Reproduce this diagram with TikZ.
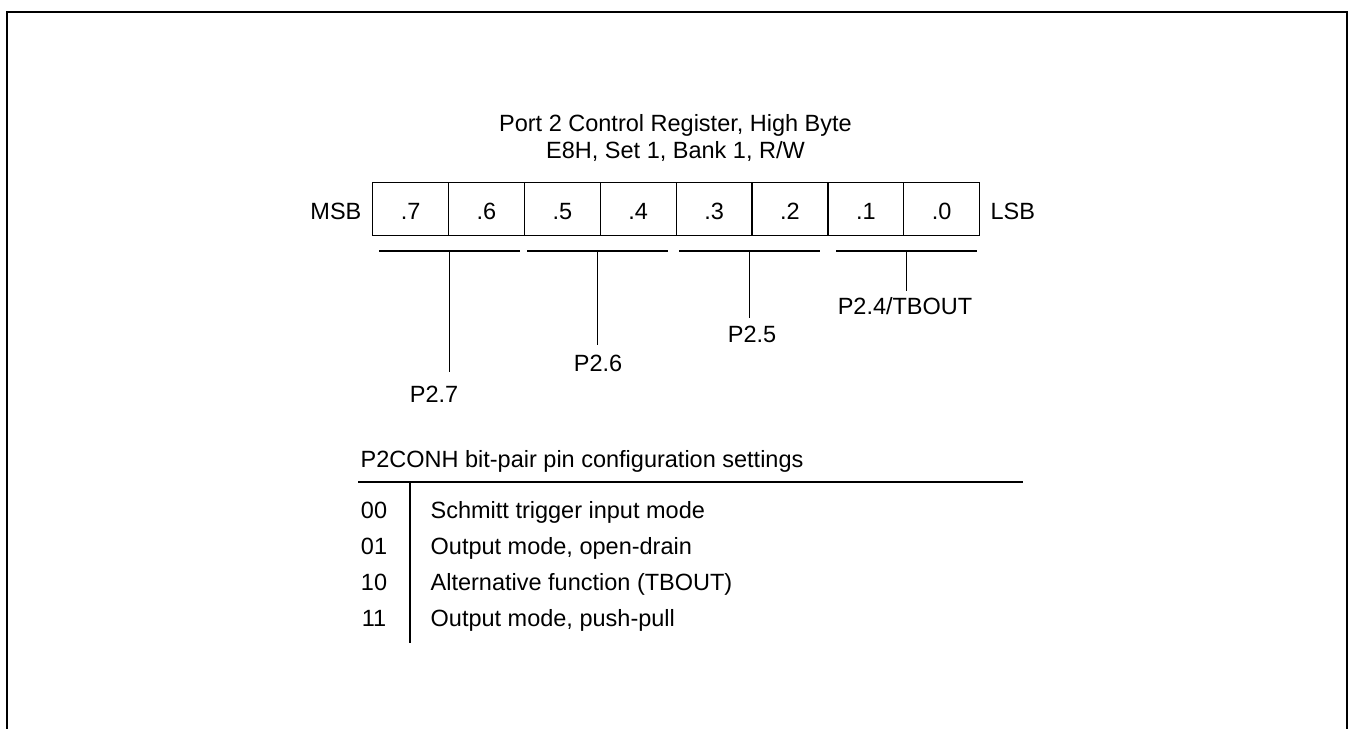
\documentclass[tikz,border=0pt]{standalone}
\usepackage{fontspec}
\setmainfont{Liberation Sans}
\begin{document}
\begin{tikzpicture}[x=1pt,y=-1pt,line width=1.3pt,
  every node/.style={font=\fontsize{23.5}{28}\selectfont,inner sep=0pt},
  bitcell/.style={draw,minimum width=75.875pt,minimum height=53pt,text height=21pt,text depth=0pt,anchor=north west}]
\useasboundingbox (0,0) rectangle (1348,728);
\clip (0,0) rectangle (1348,728);
\draw[line width=2.4pt] (7,740)--(7,12)--(1347,12)--(1347,740);
\node[anchor=base] (title) at (675.5,131) {Port 2 Control Register, High Byte};
\node[anchor=base] (addr) at (675.5,158) {E8H, Set 1, Bank 1, R/W};
\node[bitcell] (b7) at (372,182) {.7};
\node[bitcell] (b6) at (447.875,182) {.6};
\node[bitcell] (b5) at (523.75,182) {.5};
\node[bitcell] (b4) at (599.625,182) {.4};
\node[bitcell] (b3) at (675.5,182) {.3};
\node[bitcell] (b2) at (751.375,182) {.2};
\node[bitcell] (b1) at (827.25,182) {.1};
\node[bitcell] (b0) at (903.125,182) {.0};
\node[anchor=base east] (msb) at (362,219) {MSB};
\node[anchor=base west] (lsb) at (990,219) {LSB};
\draw (379,251)--(520,251);\coordinate (p7) at (449.5,251);
\draw (527,251)--(668,251);\coordinate (p6) at (597.5,251);
\draw (679,251)--(820,251);\coordinate (p5) at (749.5,251);
\draw (836,251)--(977,251);\coordinate (p4) at (906.5,251);
\node[anchor=base] (pin7) at (434,402) {P2.7};
\node[anchor=base] (pin6) at (598,371) {P2.6};
\node[anchor=base] (pin5) at (752,342) {P2.5};
\node[anchor=base] (pin4) at (905,314) {P2.4/TBOUT};
\draw (p7)--([yshift=13pt]p7 |- pin7.north);
\draw (p6)--([yshift=9pt]p6 |- pin6.north);
\draw (p5)--([yshift=7pt]p5 |- pin5.north);
\draw (p4)--([yshift=5pt]p4 |- pin4.north);
\node[anchor=base west] (cfg) at (360,467) {P2CONH bit-pair pin configuration settings};
\draw (358,482)--(1023,482);
\draw (410,482)--(410,643);
\node[anchor=base] (c00) at (374,518) {00};
\node[anchor=base] (c01) at (374,554) {01};
\node[anchor=base] (c10) at (374,590) {10};
\node[anchor=base] (c11) at (374,626) {11};
\node[anchor=base west] (m00) at (430,518) {Schmitt trigger input mode};
\node[anchor=base west] (m01) at (430,554) {Output mode, open-drain};
\node[anchor=base west] (m10) at (430,590) {Alternative function (TBOUT)};
\node[anchor=base west] (m11) at (430,626) {Output mode, push-pull};
\end{tikzpicture}
\end{document}
